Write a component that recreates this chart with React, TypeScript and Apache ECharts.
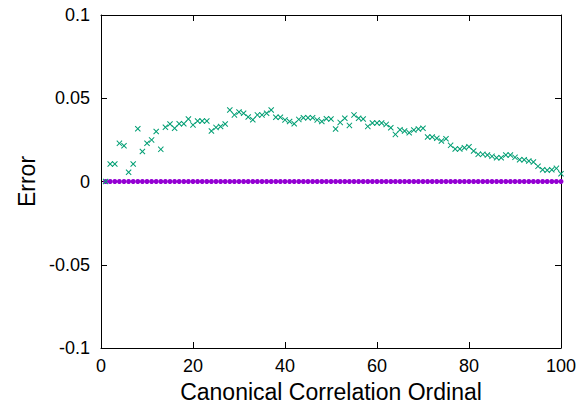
import React, { useEffect, useRef } from "react";
import * as echarts from "echarts";

const ordinals: number[] = Array.from({ length: 100 }, (_, i) => i + 1);

const greenErrors: number[] = [
  0.0, 0.0105, 0.0105, 0.0229, 0.0215, 0.0055, 0.0105, 0.0317, 0.018, 0.023,
  0.025, 0.030, 0.0193, 0.0326, 0.0345, 0.032, 0.0347, 0.0347, 0.0375, 0.034,
  0.0363, 0.0363, 0.0363, 0.0303, 0.0325, 0.033, 0.0345, 0.043, 0.040, 0.0417,
  0.041, 0.0387, 0.0371, 0.040, 0.040, 0.041, 0.043, 0.0386, 0.0386, 0.037,
  0.036, 0.0347, 0.0373, 0.0383, 0.0383, 0.0383, 0.037, 0.036, 0.0377, 0.0375,
  0.0315, 0.0355, 0.038, 0.0337, 0.040, 0.038, 0.0375, 0.0331, 0.0351, 0.0351,
  0.0351, 0.0343, 0.0323, 0.0283, 0.0311, 0.0303, 0.0293, 0.0309, 0.0315, 0.032,
  0.0267, 0.0267, 0.026, 0.0243, 0.0257, 0.0217, 0.0195, 0.0195, 0.0203, 0.0209,
  0.0183, 0.0163, 0.0163, 0.0159, 0.0151, 0.0143, 0.0143, 0.0159, 0.0159, 0.0145,
  0.0131, 0.0131, 0.0123, 0.0117, 0.0091, 0.0071, 0.0067, 0.0071, 0.0079, 0.0047,
];

const purpleErrors: number[] = ordinals.map(() => 0);

const xTickLabels = ["0", "20", "40", "60", "80", "100"];
const yTickLabels = ["-0.1", "-0.05", "0", "0.05", "0.1"];

const FONT = "'Liberation Sans', Arial, Helvetica, sans-serif";
const CROSS =
  "path://M0,1.2L1.2,0L5,3.8L8.8,0L10,1.2L6.2,5L10,8.8L8.8,10L5,6.2L1.2,10L0,8.8L3.8,5Z";

export default function App() {
  const ref = useRef<HTMLDivElement>(null);
  useEffect(() => {
    if (!ref.current) return;
    const chart = echarts.init(ref.current, null, { renderer: "svg" });
    const axisLine = { show: true, onZero: false, lineStyle: { color: "#000", width: 1 } };
    const tick = { show: true, inside: true, length: 6, lineStyle: { color: "#000", width: 1 } };
    chart.setOption({
      animation: false,
      backgroundColor: "#fff",
      grid: {
        left: 101,
        right: 26,
        top: 15,
        bottom: 52,
        containLabel: false,
        outerBoundsMode: "none",
      },
      xAxis: [
        {
          type: "value",
          min: 0,
          max: 100,
          interval: 20,
          position: "bottom",
          axisLine,
          axisTick: tick,
          splitLine: { show: false },
          axisLabel: {
            color: "#000",
            fontSize: 18,
            fontFamily: FONT,
            margin: 9,
            formatter: (v: number) => xTickLabels[Math.round(v / 20)] ?? String(v),
          },
          name: "Canonical Correlation Ordinal",
          nameLocation: "middle",
          nameGap: 22,
          nameTextStyle: { color: "#000", fontSize: 23, lineHeight: 24, fontFamily: FONT },
        },
        {
          type: "value",
          min: 0,
          max: 100,
          interval: 20,
          position: "top",
          axisLine,
          axisTick: tick,
          axisLabel: { show: false },
          splitLine: { show: false },
        },
      ],
      yAxis: [
        {
          type: "value",
          min: -0.1,
          max: 0.1,
          interval: 0.05,
          position: "left",
          axisLine,
          axisTick: tick,
          splitLine: { show: false },
          axisLabel: {
            color: "#000",
            fontSize: 18,
            fontFamily: FONT,
            margin: 11,
            formatter: (v: number) => yTickLabels[Math.round((v + 0.1) / 0.05)] ?? String(v),
          },
          name: "Error",
          nameLocation: "middle",
          nameGap: 62,
          nameRotate: 90,
          nameTextStyle: { color: "#000", fontSize: 23, fontFamily: FONT },
        },
        {
          type: "value",
          min: -0.1,
          max: 0.1,
          interval: 0.05,
          position: "right",
          axisLine,
          axisTick: tick,
          axisLabel: { show: false },
          splitLine: { show: false },
        },
      ],
      series: [
        {
          type: "scatter",
          data: ordinals.map((x, i) => [x, purpleErrors[i]]),
          symbol: "circle",
          symbolSize: 5,
          itemStyle: { color: "#9400d3", opacity: 1 },
          z: 2,
        },
        {
          type: "scatter",
          data: ordinals.map((x, i) => [x, greenErrors[i]]),
          symbol: CROSS,
          symbolSize: 6,
          itemStyle: { color: "#009e73", opacity: 1 },
          z: 3,
        },
      ],
    });
    return () => chart.dispose();
  }, []);
  return (
    <div
      ref={ref}
      style={{ position: "absolute", left: 0, top: 0, width: 587, height: 400 }}
    />
  );
}
